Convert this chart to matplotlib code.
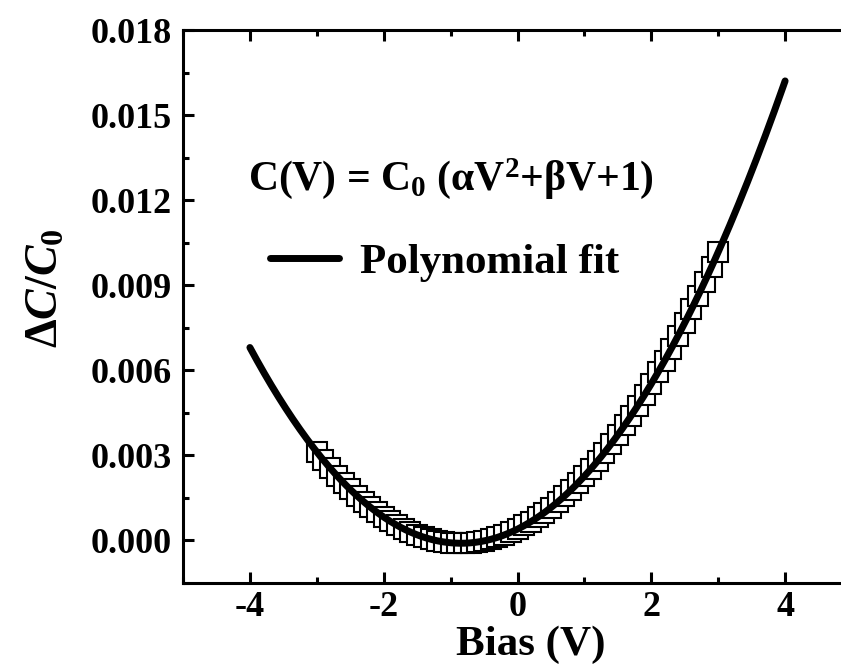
import numpy as np
import matplotlib
matplotlib.use("Agg")
import matplotlib.pyplot as plt
from matplotlib.ticker import MultipleLocator, FormatStrFormatter

# measured points (bias in V, relative capacitance change)
bias = [-3.0, -2.9, -2.8, -2.7, -2.6, -2.5, -2.4, -2.3, -2.2, -2.1,
        -2.0, -1.9, -1.8, -1.7, -1.6, -1.5, -1.4, -1.3, -1.2, -1.1,
        -1.0, -0.9, -0.8, -0.7, -0.6, -0.5, -0.4, -0.3, -0.2, -0.1,
        0.0, 0.1, 0.2, 0.3, 0.4, 0.5, 0.6, 0.7, 0.8, 0.9,
        1.0, 1.1, 1.2, 1.3, 1.4, 1.5, 1.6, 1.7, 1.8, 1.9,
        2.0, 2.1, 2.2, 2.3, 2.4, 2.5, 2.6, 2.7, 2.8, 2.9, 3.0]
dC_C0 = [0.00312, 0.00283, 0.00255, 0.00229, 0.00204, 0.00180, 0.00158, 0.00137, 0.00117, 0.00099,
         0.00083, 0.00067, 0.00053, 0.00041, 0.00030, 0.00020, 0.00012, 0.00005, -0.00001, -0.00005,
         -0.00008, -0.00010, -0.00010, -0.00008, -0.00006, -0.00001, 0.00004, 0.00011, 0.00019, 0.00029,
         0.00040, 0.00053, 0.00066, 0.00082, 0.00098, 0.00116, 0.00136, 0.00156, 0.00178, 0.00202,
         0.00227, 0.00253, 0.00281, 0.00310, 0.00341, 0.00373, 0.00406, 0.00440, 0.00476, 0.00514,
         0.00553, 0.00593, 0.00634, 0.00677, 0.00722, 0.00768, 0.00815, 0.00863, 0.00913, 0.00965, 0.01017]

fit_range = (-4, 4)
x_ticks = [-4, -2, 0, 2, 4]
y_ticks = [0.000, 0.003, 0.006, 0.009, 0.012, 0.015, 0.018]

plt.rcParams["font.family"] = ["Liberation Serif", "DejaVu Serif"]
plt.rcParams["font.weight"] = "bold"
plt.rcParams["axes.unicode_minus"] = False
plt.rcParams["mathtext.fontset"] = "custom"
plt.rcParams["mathtext.rm"] = "Liberation Serif:bold"
plt.rcParams["mathtext.it"] = "Liberation Serif:bold:italic"
plt.rcParams["mathtext.bf"] = "Liberation Serif:bold"
plt.rcParams["mathtext.default"] = "rm"

# second order polynomial fit of the data, drawn over a wider bias range
coef = np.polyfit(bias, dC_C0, 2)
x_fit = np.linspace(fit_range[0], fit_range[1], 300)
y_fit = np.polyval(coef, x_fit)

fig = plt.figure(figsize=(8.41, 6.69), dpi=100)
# right spine sits just past the figure edge, as in the original
ax = fig.add_axes([0.2176, 0.1285, 0.7955, 0.8266])

ax.plot(bias, dC_C0, ls="none", marker="s", ms=14.5, mfc="white",
        mec="black", mew=1.5, zorder=2)
ax.plot(x_fit, y_fit, color="black", lw=5, solid_capstyle="round",
        label="Polynomial fit", zorder=3)

ax.set_xlim(-5, 5)
ax.set_ylim(-0.0015, 0.018)
ax.set_xticks(x_ticks)
ax.set_yticks(y_ticks)
ax.xaxis.set_minor_locator(MultipleLocator(1))
ax.yaxis.set_minor_locator(MultipleLocator(0.0015))
ax.yaxis.set_major_formatter(FormatStrFormatter("%.3f"))

for side in ax.spines.values():
    side.set_linewidth(2.2)
ax.tick_params(which="both", direction="in", top=True, right=True, width=2.2)
ax.tick_params(which="major", length=8, labelsize=26)
ax.tick_params(which="minor", length=4)
ax.tick_params(axis="x", pad=6)
ax.tick_params(axis="y", pad=8)

ax.set_xlabel("Bias (V)", fontsize=31, fontweight="bold")
ax.xaxis.set_label_coords(0.520, -0.076)
ax.set_ylabel(r"$\Delta\mathit{C}/\mathit{C}_0$", fontsize=33)
ax.yaxis.set_label_coords(-0.173, 0.533)

ax.text(0.097, 0.711, r"C(V) = C$_0$ (αV$^2$+βV+1)", transform=ax.transAxes,
        fontsize=30, fontweight="bold", va="baseline", ha="left")

ax.legend(loc="center left", bbox_to_anchor=(0.130, 0.580), frameon=False,
          fontsize=31, handlelength=1.6, handletextpad=0.5,
          borderpad=0, borderaxespad=0)

fig.savefig("out.png", dpi=100)
